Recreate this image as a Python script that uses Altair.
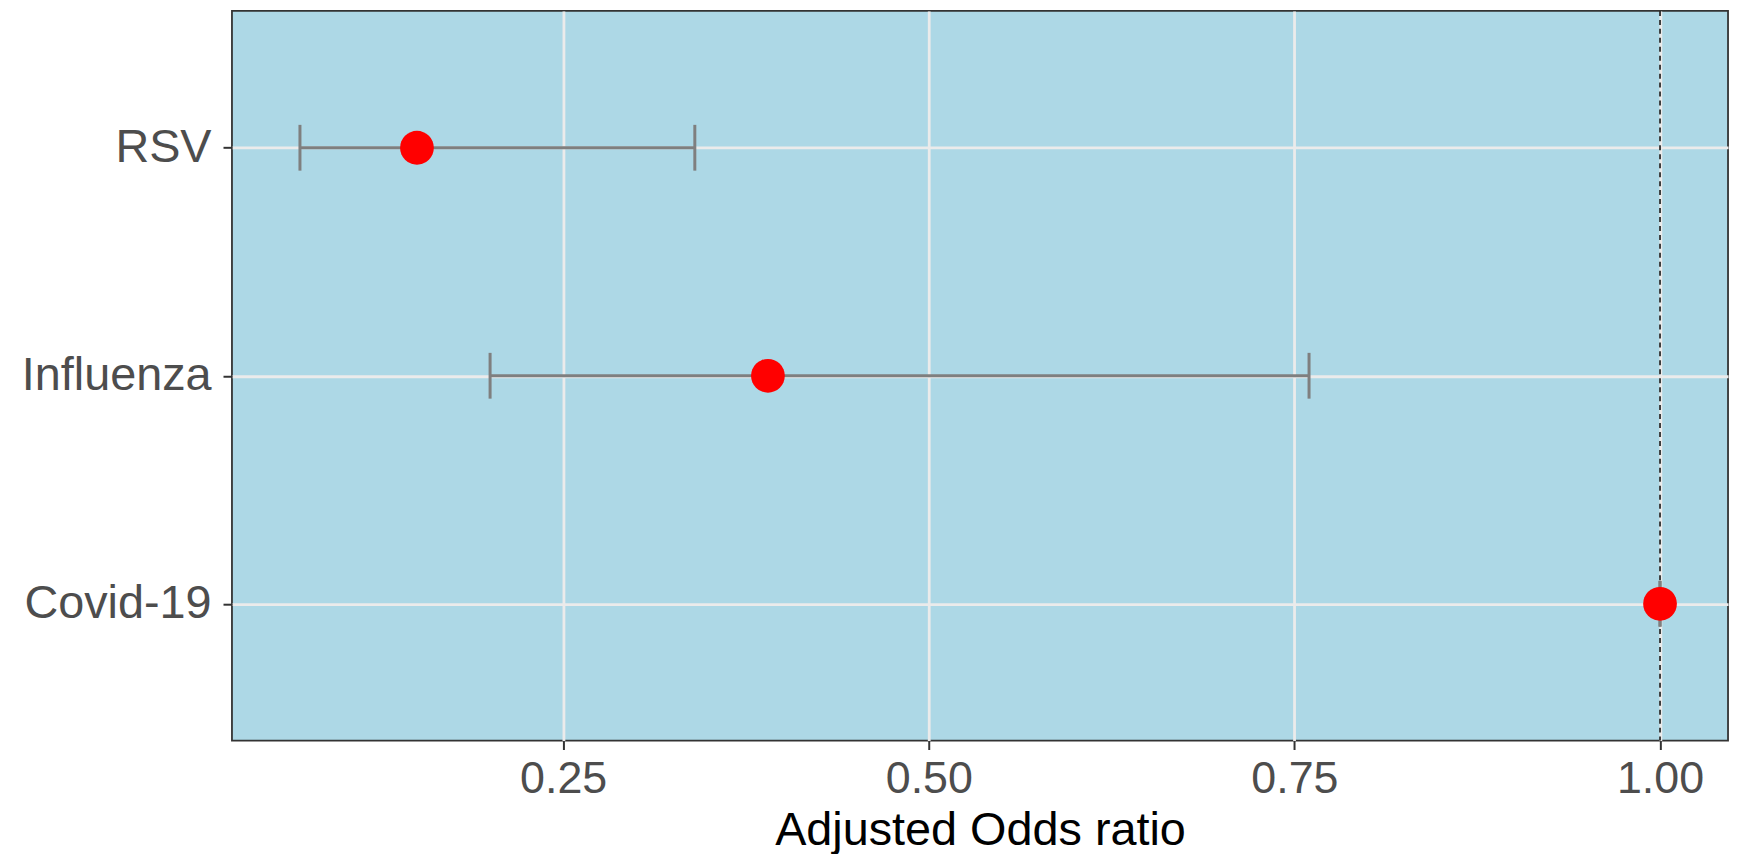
import altair as alt
import pandas as pd

# ---- data ----
categories = ["RSV", "Influenza", "Covid-19"]
odds_ratio = [0.15, 0.39, 1.00]
ci_lower = [0.07, 0.20, 1.00]
ci_upper = [0.34, 0.76, 1.00]
x_ticks = [0.25, 0.50, 0.75, 1.00]
reference_line = [1.0]
x_domain = [0.0235, 1.0465]

df = pd.DataFrame({"virus": categories, "aor": odds_ratio, "lo": ci_lower, "hi": ci_upper})
ref = pd.DataFrame({"x": reference_line})

FONT = "Liberation Sans"
W, H = 1503, 733

x_scale = alt.Scale(domain=x_domain, nice=False, zero=False)
y_scale = alt.Scale(type="point", domain=categories, padding=0.6)

x_axis = alt.Axis(
    values=x_ticks, format=".2f", labelPadding=7, labelFlush=False,
    titleX=W / 2, titleY=104, titleAlign="center", titleBaseline="alphabetic",
    titleAnchor="middle", titleFontSize=47,
)
y_axis = alt.Axis(labelPadding=12, labelBaseline="middle", labelLimit=0,
                  labelFontSize=47)

TITLE_X = "Adjusted Odds ratio"


def X(field):
    return alt.X(field, type="quantitative", scale=x_scale, axis=x_axis, title=TITLE_X)


def Y():
    return alt.Y("virus", type="nominal", scale=y_scale, axis=y_axis, title=None)


vline = alt.Chart(ref).mark_rule(
    color="#222222", strokeWidth=1.7, strokeDash=[5, 4]
).encode(x=X("x"))

bars = alt.Chart(df).mark_rule(color="#7F7F7F", strokeWidth=3).encode(
    x=X("lo"), x2="hi", y=Y()
)

cap_lo = alt.Chart(df).mark_tick(
    color="#7F7F7F", thickness=3, size=46, orient="vertical", opacity=1
).encode(x=X("lo"), y=Y())

cap_hi = alt.Chart(df).mark_tick(
    color="#7F7F7F", thickness=3, size=46, orient="vertical", opacity=1
).encode(x=X("hi"), y=Y())

points = alt.Chart(df).mark_circle(color="#FF0000", size=1150, opacity=1).encode(
    x=X("aor"), y=Y()
)

chart = (
    alt.layer(vline, bars, cap_lo, cap_hi, points)
    .properties(
        width=W, height=H,
        autosize=alt.AutoSizeParams(type="none"),
        padding={"left": 225, "top": 1, "right": 6, "bottom": 112},
        background="white",
    )
    .configure_view(fill="#ADD8E6", stroke="#333333", strokeWidth=1.8)
    .configure_axis(
        labelFont=FONT, titleFont=FONT, labelFontSize=45, titleFontSize=47,
        labelColor="#4D4D4D", titleColor="#000000", titleFontWeight="normal",
        grid=True, gridColor="#EBEBEB", gridWidth=2.8,
        tickColor="#333333", tickWidth=2, tickSize=9, domain=False,
    )
)

chart.save("out.html", embed_options={"renderer": "svg", "actions": False})
